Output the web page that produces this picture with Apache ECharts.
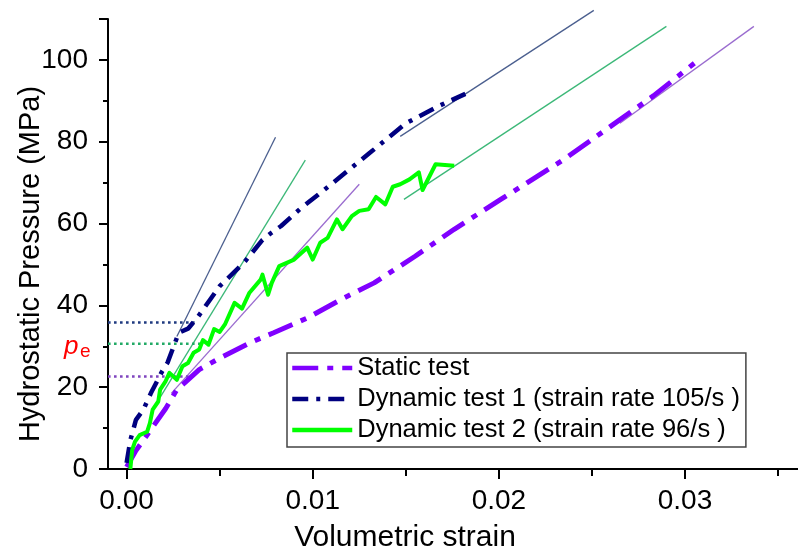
<!DOCTYPE html>
<html><head><meta charset="utf-8">
<script src="https://cdn.jsdelivr.net/npm/echarts@6/dist/echarts.min.js"></script>
<style>html,body{margin:0;padding:0;background:#fff}#c{width:798px;height:554px}</style>
</head><body><div id="c"></div>
<script>
// ---------- data ----------
const seriesNames = ['Static test', 'Dynamic test 1 (strain rate 105/s )', 'Dynamic test 2 (strain rate 96/s )'];
const staticTest = [[0.0000,0.5],[0.0005,4.5],[0.0013,9.6],[0.0021,14.8],[0.0027,19.4],[0.0031,21],[0.0039,24.3],[0.0050,27.1],[0.0068,31.2],[0.0079,33.3],[0.0097,36.9],[0.0115,41.4],[0.0133,45.5],[0.0155,52],[0.0176,58.6],[0.0201,65.9],[0.0235,75.7],[0.0258,83.1],[0.0283,91.2],[0.0305,99.2]];
const dynamicTest1 = [[0.0000,1.5],[0.0002,7],[0.0005,12],[0.0009,14.5],[0.0013,18.5],[0.0019,23.8],[0.0022,26],[0.0028,33.3],[0.0033,34.3],[0.0038,37],[0.0045,41.5],[0.0050,44.7],[0.0063,50.4],[0.0073,56],[0.0078,57.8],[0.0083,59.4],[0.0093,63.5],[0.0111,70],[0.0131,77.4],[0.0150,84.5],[0.0168,88.8],[0.0182,91.7]];
const dynamicTest2 = [[0.0002,0],[0.0003,4.7],[0.00045,6.7],[0.0007,8.3],[0.0011,9.1],[0.00125,11.2],[0.0014,14.5],[0.0017,16.5],[0.0018,19.4],[0.0021,21.5],[0.0023,23.5],[0.0027,21.8],[0.0030,25.1],[0.0033,25.9],[0.0036,28.4],[0.0039,29.2],[0.0041,31.5],[0.0044,30.4],[0.0047,34.2],[0.0050,33.5],[0.0053,35.5],[0.0058,40.6],[0.0062,39.2],[0.0066,43.1],[0.0072,46.3],[0.0073,47.5],[0.0076,42.6],[0.0078,45.5],[0.0082,49.6],[0.0086,50.4],[0.0090,51.2],[0.0097,54.1],[0.0100,51.2],[0.0104,55.3],[0.0108,56.5],[0.0113,61.0],[0.0116,58.6],[0.0121,61.8],[0.0125,63.1],[0.0130,63.5],[0.0134,66.5],[0.0139,64.7],[0.0143,69.0],[0.0147,69.6],[0.0152,70.8],[0.0157,72.5],[0.0159,68.2],[0.0166,74.5],[0.0176,74.1]];
const fitNavy1 = [[0.0027,32.4],[0.0080,81.1]];
const fitNavy2 = [[0.0147,81.3],[0.0251,112.1]];
const fitGreen1 = [[0.0018,17.5],[0.0096,75.5]];
const fitGreen2 = [[0.0149,65.9],[0.0290,108.2]];
const fitPurple1 = [[0.0024,18.5],[0.0125,69.6]];
const fitPurple2 = [[0.0265,84.5],[0.0337,108.2]];
const peLevels = [35.8, 30.6, 22.6];      // navy, green, purple
const peEnds = [0.0038, 0.0041, 0.0036];
const peStart = -0.001;
const xMajorTicks = [0, 0.01, 0.02, 0.03];
const xMinorTicks = [0.005, 0.015, 0.025, 0.035];

// ---------- chart ----------
const FONT = '"Liberation Sans", Arial, sans-serif';
const chart = echarts.init(document.getElementById('c'), null, {renderer: 'canvas'});

function thin(data, color) {
  return {type: 'line', data, symbol: 'none', silent: true, clip: false, z: 1,
    lineStyle: {color, width: 1.3}};
}
function dotted(level, end, color) {
  return {type: 'line', data: [[peStart, level], [end, level]], symbol: 'none', silent: true, z: 1,
    lineStyle: {color, width: 2.6, type: [2.6, 3.4]}};
}

const tickStyle = {color: '#000', width: 2};

chart.setOption({
  animation: false,
  backgroundColor: '#fff',
  grid: {left: 108, right: 0, top: 19, bottom: 85, containLabel: false, outerBoundsMode: 'none'},
  xAxis: [
    {
      type: 'value', min: -0.001, max: 0.03607, splitLine: {show: false},
      axisLine: {show: true, onZero: false, lineStyle: {color: '#000', width: 2}},
      name: 'Volumetric strain', nameLocation: 'middle', nameGap: 54, nameMoveOverlap: false,
      nameTextStyle: {fontFamily: FONT, fontSize: 30, color: '#000', padding: [0, 96, 0, 0]},
      axisTick: {show: true, length: 10, customValues: xMajorTicks, lineStyle: tickStyle},
      axisLabel: {customValues: xMajorTicks, margin: 18, fontFamily: FONT, fontSize: 28, color: '#000',
        formatter: v => v.toFixed(2)}
    },
    {
      type: 'value', min: -0.001, max: 0.03607, position: 'bottom', splitLine: {show: false},
      axisLine: {show: false, onZero: false},
      axisTick: {show: true, length: 7, customValues: xMinorTicks, lineStyle: tickStyle},
      axisLabel: {show: false, customValues: xMinorTicks}
    }
  ],
  yAxis: [
    {
      type: 'value', min: 0, max: 110, interval: 20, position: 'left', splitLine: {show: false},
      axisLine: {show: true, onZero: false, lineStyle: {color: '#000', width: 2}},
      name: 'Hydrostatic Pressure (MPa)', nameLocation: 'middle', nameGap: 63, nameMoveOverlap: false,
      nameTextStyle: {fontFamily: FONT, fontSize: 29, color: '#000', padding: [0, 40, 0, 0]},
      axisTick: {show: true, length: 9, lineStyle: tickStyle},
      axisLabel: {margin: 20, fontFamily: FONT, fontSize: 28, color: '#000',
        formatter: v => (v <= 100 ? String(v) : '')}
    },
    {
      type: 'value', min: 0, max: 110, interval: 10, position: 'left', offset: 0, splitLine: {show: false},
      axisLine: {show: false, onZero: false},
      axisTick: {show: true, length: 5, lineStyle: tickStyle},
      axisLabel: {show: false}
    }
  ],
  legend: {
    data: seriesNames, orient: 'vertical', left: 287, top: 353,
    backgroundColor: '#fff', borderColor: '#444', borderWidth: 1.5,
    padding: [2, 6, 4, 3], itemGap: 5, itemWidth: 60, itemHeight: 14,
    itemStyle: {opacity: 0},
    lineStyle: {width: 4.5},
    textStyle: {fontFamily: FONT, fontSize: 25.5, color: '#000', lineHeight: 26}
  },
  graphic: [
    {type: 'text', left: 64, top: 334, z: 100,
      style: {text: 'p', font: 'italic 26px ' + FONT, fill: '#ff0000'}},
    {type: 'text', left: 80, top: 342, z: 100,
      style: {text: 'e', font: '19px ' + FONT, fill: '#ff0000'}}
  ],
  series: [
    thin(fitNavy1, '#4b5f8f'), thin(fitNavy2, '#4b5f8f'),
    thin(fitGreen1, '#3cb878'), thin(fitGreen2, '#3cb878'),
    thin(fitPurple1, '#9a6ccf'), thin(fitPurple2, '#9a6ccf'),
    dotted(peLevels[0], peEnds[0], '#1f3a80'),
    dotted(peLevels[1], peEnds[1], '#22aa66'),
    dotted(peLevels[2], peEnds[2], '#7f45bf'),
    {name: seriesNames[0], type: 'line', data: staticTest, symbol: 'none', z: 3,
      lineStyle: {color: '#8000ff', width: 5, type: [26, 9, 6, 9]}, itemStyle: {color: '#8000ff'}},
    {name: seriesNames[1], type: 'line', data: dynamicTest1, symbol: 'none', z: 4,
      lineStyle: {color: '#000080', width: 4.5, type: [16, 8, 4, 8]}, itemStyle: {color: '#000080'}},
    {name: seriesNames[2], type: 'line', data: dynamicTest2, symbol: 'none', z: 5,
      lineStyle: {color: '#00ff00', width: 4, join: 'round'}, itemStyle: {color: '#00ff00'}}
  ]
});
</script></body></html>
